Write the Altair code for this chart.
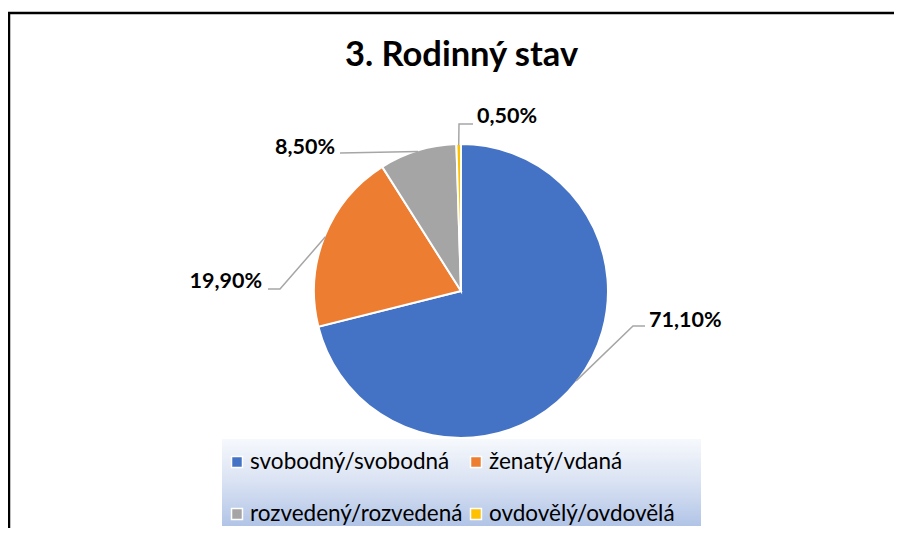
import math
import altair as alt
import pandas as pd

# ---- data ----
categories = ["svobodný/svobodná", "ženatý/vdaná", "rozvedený/rozvedená", "ovdovělý/ovdovělá"]
values = [71.1, 19.9, 8.5, 0.5]
labels = ["71,10%", "19,90%", "8,50%", "0,50%"]
title_text = "3. Rodinný stav"

# ---- style / layout ----
colors = ["#4472C4", "#ED7D31", "#A5A5A5", "#FFC000"]
W, H = 886, 520
CX, CY, R = 453, 283, 147
FONT = "Lato"
# leader-line elbow / end and label anchor offsets from the pie centre (pixels)
elbow_off = [(172, 35), (-181, -2), (-121, -138), (-2, -167)]
end_off = [(184, 35), (-193, -2), (-121, -138), (12, -167)]
text_off = [(188, 36), (-199, -3), (-126, -137), (16, -168)]
text_align = ["left", "right", "right", "left"]
legend_sq = [(229, 454), (468, 454), (229, 506), (468, 506)]
legend_tx = [(242, 461), (481, 461), (242, 513), (481, 513)]

total = sum(values)
pie_df = pd.DataFrame({"cat": categories, "value": values, "idx": range(len(values))})

lead_rows, lab_rows, leg_rows = [], [], []
cum = 0.0
for i, v in enumerate(values):
    mid = (cum + v / 2) / total * 2 * math.pi
    cum += v
    sx = CX + (R - 1) * math.sin(mid)
    sy = CY - (R - 1) * math.cos(mid)
    pts = [(sx, sy), (CX + elbow_off[i][0], CY + elbow_off[i][1]),
           (CX + end_off[i][0], CY + end_off[i][1])]
    for k, (px, py) in enumerate(pts):
        lead_rows.append({"cat": categories[i], "k": k, "x": px, "y": py})
    lab_rows.append({"label": labels[i], "x": CX + text_off[i][0], "y": CY + text_off[i][1],
                     "align": text_align[i]})
    leg_rows.append({"cat": categories[i], "sx": legend_sq[i][0], "sy": legend_sq[i][1],
                     "tx": legend_tx[i][0], "ty": legend_tx[i][1], "idx": i})

lead_df = pd.DataFrame(lead_rows)
lab_df = pd.DataFrame(lab_rows)
leg_df = pd.DataFrame(leg_rows)

xs = alt.Scale(domain=[0, W], nice=False, zero=False)
ys = alt.Scale(domain=[0, H], nice=False, zero=False, reverse=True)
cscale = alt.Scale(domain=categories, range=colors)
one = pd.DataFrame({"a": [0]})

border = alt.Chart(one).mark_rect(fillOpacity=0, stroke="black", strokeWidth=2.5).encode(
    x=alt.value(1), x2=alt.value(1200), y=alt.value(5), y2=alt.value(1200))

title = alt.Chart(one).mark_text(text=title_text, font=FONT, fontSize=34.5, fontWeight="bold",
                                 color="black", align="center", baseline="alphabetic").encode(
    x=alt.value(453.5), y=alt.value(58))

legend_bg = alt.Chart(one).mark_rect(
    color=alt.Gradient(gradient="linear", x1=0, x2=0, y1=0, y2=1,
                       stops=[alt.GradientStop(offset=0, color="#f6f8fc"),
                              alt.GradientStop(offset=0.5, color="#d9e2f3"),
                              alt.GradientStop(offset=1, color="#b1c4e6")])).encode(
    x=alt.value(214), x2=alt.value(693), y=alt.value(431), y2=alt.value(518))

pie = alt.Chart(pie_df).mark_arc(radius=R, stroke="white", strokeWidth=2).encode(
    theta=alt.Theta("value:Q", stack=True),
    color=alt.Color("cat:N", scale=cscale, legend=None),
    order=alt.Order("idx:Q"),
    x=alt.value(CX), y=alt.value(CY))

leaders = alt.Chart(lead_df).mark_line(color="#a6a6a6", strokeWidth=1.5).encode(
    x=alt.X("x:Q", scale=xs, axis=None), y=alt.Y("y:Q", scale=ys, axis=None),
    detail="cat:N", order="k:Q")

def lab_layer(al):
    return alt.Chart(lab_df[lab_df["align"] == al]).mark_text(
        font=FONT, fontSize=21.5, fontWeight="bold", color="black", align=al,
        baseline="alphabetic").encode(
        x=alt.X("x:Q", scale=xs, axis=None), y=alt.Y("y:Q", scale=ys, axis=None),
        text="label:N")

leg_sq = alt.Chart(leg_df).mark_point(shape="square", filled=True, size=120, opacity=1,
                                      stroke="white", strokeWidth=1.5).encode(
    x=alt.X("sx:Q", scale=xs, axis=None), y=alt.Y("sy:Q", scale=ys, axis=None),
    color=alt.Color("cat:N", scale=cscale, legend=None))

leg_tx = alt.Chart(leg_df).mark_text(font=FONT, fontSize=22.5, color="black", align="left",
                                     baseline="alphabetic").encode(
    x=alt.X("tx:Q", scale=xs, axis=None), y=alt.Y("ty:Q", scale=ys, axis=None),
    text="cat:N")

chart = alt.layer(border, title, legend_bg, pie, leaders, lab_layer("left"), lab_layer("right"),
                  leg_sq, leg_tx).properties(
    width=W, height=H, padding=0, autosize=alt.AutoSizeParams(type="none"),
    background="white").configure_view(stroke=None)

chart.save("out.html", embed_options={"renderer": "svg", "actions": False})
